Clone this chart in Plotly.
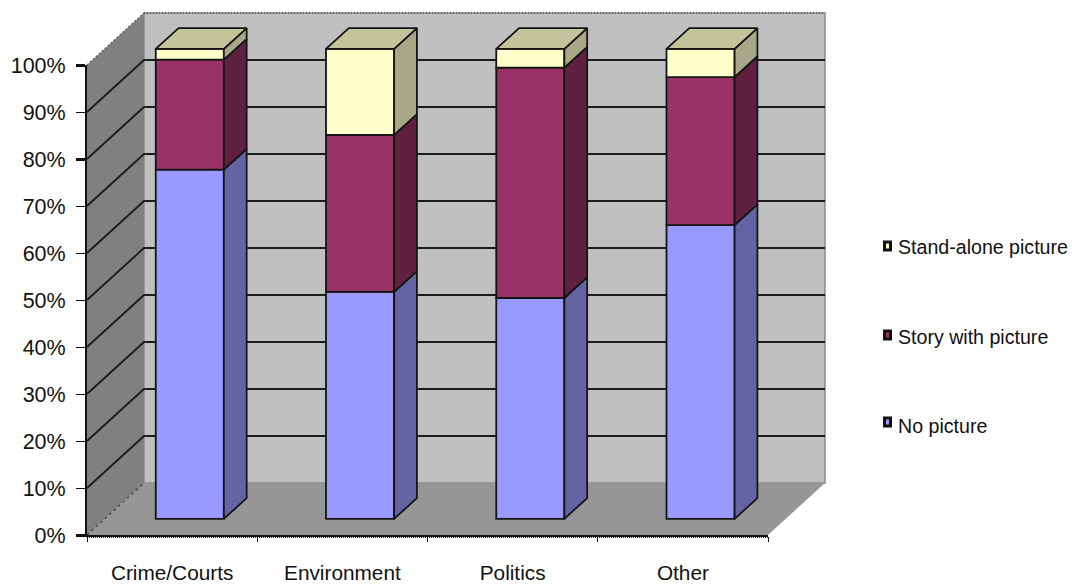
import plotly.graph_objects as go

# Chart data: share of stories per topic, stacked from the bottom up
categories = ["Crime/Courts", "Environment", "Politics", "Other"]
no_picture = [74.3, 48.3, 47.0, 62.5]
story_with_picture = [23.4, 33.4, 49.0, 31.5]
stand_alone_picture = [2.3, 18.3, 4.0, 6.0]

series_names = ["No picture", "Story with picture", "Stand-alone picture"]
series_values = [no_picture, story_with_picture, stand_alone_picture]
front_colors = ["#9999FF", "#993366", "#FFFFCC"]
side_colors = ["#6464A4", "#602040", "#A8A888"]
top_color = "#C4C49C"

y_ticks = list(range(0, 101, 10))
y_tick_labels = [f"{v}%" for v in y_ticks]
heavy_y_ticks = [0, 80, 100]

# Front plane of the chart box, in pixels
WIDTH, HEIGHT = 1072, 586
LEFT, RIGHT, BASE, TOP = 87, 768, 535, 65
X_UNIT = (RIGHT - LEFT) / len(categories)
Y_UNIT = (BASE - TOP) / 100

# Oblique projection: how far the back wall is shifted from the front plane
DEPTH_X = 57 / X_UNIT
DEPTH_Y = 52 / Y_UNIT
BAR_WIDTH = 0.4
BAR_NEAR, BAR_FAR = 0.31, 0.71
EDGE = "#141414"


def project(x, y, t):
    """Shift a data point back by depth fraction t."""
    return x + DEPTH_X * t, y + DEPTH_Y * t


def svg_path(points, closed=True):
    body = "L".join(f"{x:.4f},{y:.4f}" for x, y in points)
    return "M" + body + ("Z" if closed else "")


def wall(points, color, line=None, width=0):
    return dict(type="path", xref="x", yref="y", layer="below", path=svg_path(points),
                fillcolor=color, line=dict(color=line or color, width=width))


def rule(points, color, width, dash="solid"):
    return dict(type="path", xref="x", yref="y", layer="below", path=svg_path(points, closed=False),
                line=dict(color=color, width=width, dash=dash))


def face(points, color):
    xs = [p[0] for p in points] + [points[0][0]]
    ys = [p[1] for p in points] + [points[0][1]]
    return go.Scatter(x=xs, y=ys, mode="lines", fill="toself", fillcolor=color,
                      line=dict(color=EDGE, width=1.8), hoverinfo="skip", showlegend=False)


n = len(categories)
fig = go.Figure()

# Chart box: back wall, left wall and floor
shapes = [
    wall([project(0, 0, 1), project(n, 0, 1), project(n, 100, 1), project(0, 100, 1)], "#C0C0C0", "#8A8A8A", 1.5),
    wall([project(0, 0, 0), project(0, 0, 1), project(0, 100, 1), project(0, 100, 0)], "#808080"),
    wall([project(0, 0, 0), project(0, 0, 1), project(n, 0, 1), project(n, 0, 0)], "#969696"),
]

# Gridlines wrap from the left wall across the back wall
for tick in y_ticks[1:-1]:
    shapes.append(rule([project(0, tick, 0), project(0, tick, 1), project(n, tick, 1)], "#1C1C1C", 1.8))
shapes.append(rule([project(0, 100, 0), project(0, 100, 1)], "#555555", 1.2, "2px,2px"))
shapes.append(rule([project(0, 100, 1), project(n, 100, 1)], "#444444", 1.4, "1px,2px"))
shapes.append(rule([project(0, 0, 0), project(0, 0, 1)], "#444444", 1.2, "3px,3px"))
# Dotted hairline just under the category axis
shapes.append(rule([project(0, -0.5, 0), project(n, -0.5, 0)], "#222222", 1.4, "1px,1px"))

# Bars: front faces plus side faces projected from the same values
for s, (name, values) in enumerate(zip(series_names, series_values)):
    bases = [sum(series_values[k][i] for k in range(s)) for i in range(n)]
    centers = [i + 0.5 + DEPTH_X * BAR_NEAR for i in range(n)]
    fig.add_trace(go.Bar(
        x=centers, y=values, base=[b + DEPTH_Y * BAR_NEAR for b in bases],
        width=BAR_WIDTH, name=name, showlegend=False,
        marker=dict(color=front_colors[s], line=dict(color=EDGE, width=1.8)),
    ))
    for i in range(n):
        right = i + 0.5 + BAR_WIDTH / 2
        low, high = bases[i], bases[i] + values[i]
        fig.add_trace(face(
            [project(right, low, BAR_NEAR), project(right, low, BAR_FAR),
             project(right, high, BAR_FAR), project(right, high, BAR_NEAR)],
            side_colors[s],
        ))

# Top cap of each column
for i in range(n):
    left, right = i + 0.5 - BAR_WIDTH / 2, i + 0.5 + BAR_WIDTH / 2
    total = sum(series[i] for series in series_values)
    fig.add_trace(face(
        [project(left, total, BAR_NEAR), project(right, total, BAR_NEAR),
         project(right, total, BAR_FAR), project(left, total, BAR_FAR)],
        top_color,
    ))

# The visible axes live on their own subplot, limited to the front plane
fig.add_trace(go.Scatter(x=[0], y=[0], mode="markers", marker=dict(opacity=0, size=1),
                         hoverinfo="skip", showlegend=False, xaxis="x2", yaxis="y2"))

# Hand-placed legend, so each swatch sits right against its label
legend_rows = {"Stand-alone picture": (246, 247), "Story with picture": (335, 337), "No picture": (422, 426)}
annotations = []
for name, (swatch_row, text_row) in legend_rows.items():
    color = front_colors[series_names.index(name)]
    shapes.append(dict(
        type="rect", xref="paper", yref="paper", layer="above",
        x0=884.5 / WIDTH, x1=890.5 / WIDTH, y0=1 - (swatch_row + 4) / HEIGHT, y1=1 - (swatch_row - 4) / HEIGHT,
        fillcolor=color, line=dict(color="#111111", width=3),
    ))
    annotations.append(dict(
        text=name, xref="paper", yref="paper", x=896 / WIDTH, y=1 - text_row / HEIGHT,
        xanchor="left", yanchor="middle", showarrow=False,
        font=dict(family="Liberation Sans", size=19.6, color="#111111"),
    ))

fig.update_layout(
    width=WIDTH, height=HEIGHT, autosize=False,
    margin=dict(l=0, r=0, t=0, b=0, pad=0, autoexpand=False),
    paper_bgcolor="white", plot_bgcolor="rgba(0,0,0,0)",
    showlegend=False, barmode="overlay", hovermode=False,
    font=dict(family="Liberation Sans", size=20, color="#111111"),
    shapes=shapes, annotations=annotations,
    # Full-page data axes, so projected faces never reach the subplot clip
    xaxis=dict(domain=[0, 1], range=[-LEFT / X_UNIT, (WIDTH - LEFT) / X_UNIT], visible=False),
    yaxis=dict(domain=[0, 1], range=[(BASE - HEIGHT) / Y_UNIT, BASE / Y_UNIT], visible=False),
    xaxis2=dict(
        anchor="y2", domain=[LEFT / WIDTH, RIGHT / WIDTH], range=[0, n], showgrid=False, zeroline=False,
        tickmode="array", tickvals=[i + 0.5 for i in range(n)], ticktext=categories,
        ticks="outside", ticklen=0, ticklabelstandoff=18,
        tickfont=dict(size=20.8), showline=True, linecolor="#111111", linewidth=2,
        minor=dict(tickmode="array", tickvals=list(range(n + 1)), ticks="outside",
                   ticklen=5, tickwidth=1, tickcolor="#111111"),
    ),
    yaxis2=dict(
        anchor="x2", domain=[1 - BASE / HEIGHT, 1 - TOP / HEIGHT], range=[0, 100], showgrid=False, zeroline=False,
        tickmode="array", tickvals=y_ticks, ticktext=y_tick_labels,
        ticks="outside", ticklen=9, tickwidth=1, tickcolor="#111111", ticklabelstandoff=6,
        tickfont=dict(size=21.5), showline=True, linecolor="#111111", linewidth=2,
        minor=dict(tickmode="array", tickvals=heavy_y_ticks, ticks="outside",
                   ticklen=9, tickwidth=3, tickcolor="#111111"),
    ),
)

fig.write_html("out.html")
